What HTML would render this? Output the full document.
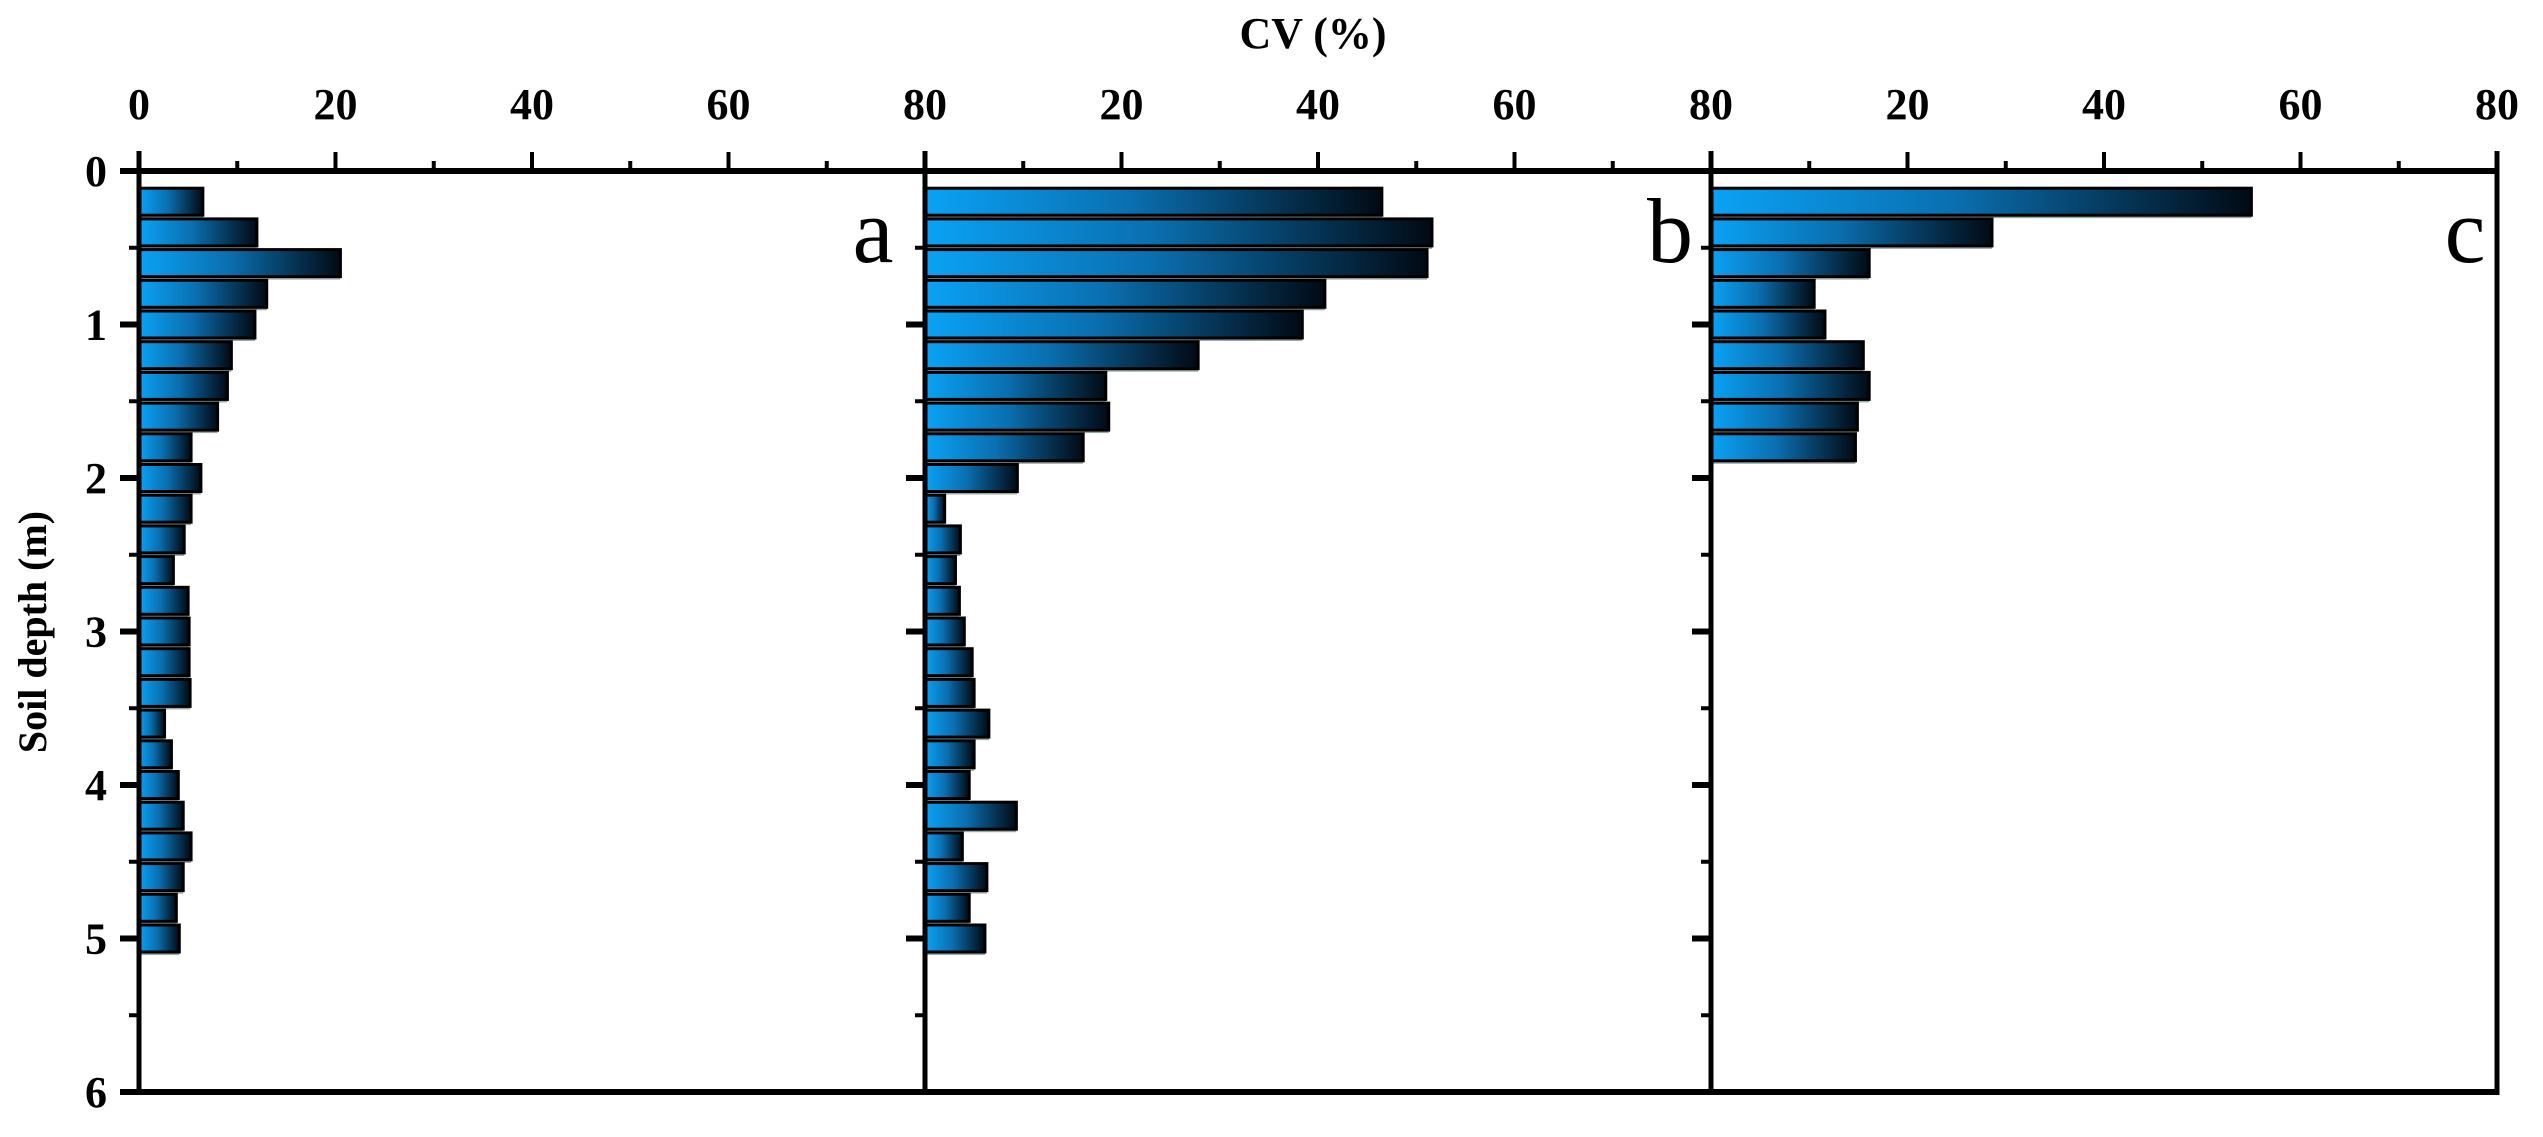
<!DOCTYPE html>
<html><head><meta charset="utf-8"><style>
html,body{margin:0;padding:0;background:#fff;}
svg{display:block;font-family:"Liberation Serif",serif;}
</style></head><body>
<svg id="chart" width="2543" height="1137" viewBox="0 0 2543 1137" xmlns="http://www.w3.org/2000/svg">
<defs>
<linearGradient id="barGrad" x1="0" y1="0" x2="1" y2="0">
<stop offset="0" stop-color="#0aa2f5"/><stop offset="0.45" stop-color="#0a6fb0"/><stop offset="1" stop-color="#010a14"/>
</linearGradient>
</defs>
<text x="1313" y="48" text-anchor="middle" font-size="44" font-weight="bold">CV (%)</text>
<text transform="translate(46,632) rotate(-90)" text-anchor="middle" font-size="40" font-weight="bold">Soil depth (m)</text>
<g id="plot"></g>
</svg>
<script>
const depths = [0.2,0.4,0.6,0.8,1.0,1.2,1.4,1.6,1.8,2.0,2.2,2.4,2.6,2.8,3.0,3.2,3.4,3.6,3.8,4.0,4.2,4.4,4.6,4.8,5.0];
const depthsC = [0.2,0.4,0.6,0.8,1.0,1.2,1.4,1.6,1.8];
const valuesA = [6.5,12,20.5,13,11.8,9.4,9,8,5.3,6.3,5.3,4.6,3.5,5,5.1,5.1,5.2,2.6,3.3,4,4.5,5.3,4.5,3.8,4.1];
const valuesB = [46.5,51.6,51.1,40.7,38.4,27.8,18.4,18.7,16.1,9.4,2,3.6,3.1,3.5,4,4.8,5,6.5,5,4.5,9.3,3.8,6.3,4.5,6.1];
const valuesC = [55,28.6,16.1,10.5,11.6,15.5,16.1,14.9,14.7];
const xTicks = [0,20,40,60,80];
const yTicks = [0,1,2,3,4,5,6];
const panelLabels = ['a','b','c'];

const NS='http://www.w3.org/2000/svg';
const plotG=document.getElementById('plot');
const panelX0=[139,925,1711], panelW=786, y0=171, yPerM=153.5, xMax=80, barH=27;
function yScale(d){return y0+d*yPerM;}
function xScale(p,v){return panelX0[p]+v/xMax*panelW;}
function mk(tag,attrs){const e=document.createElementNS(NS,tag);for(const k in attrs)e.setAttribute(k,attrs[k]);plotG.appendChild(e);return e;}

const series=[[depths,valuesA],[depths,valuesB],[depthsC,valuesC]];
series.forEach((s,p)=>{
  s[0].forEach((d,i)=>{
    const x=panelX0[p], y=yScale(d)-barH/2, w=xScale(p,s[1][i])-x;
    const sh=mk('rect',{x:x,y:y+barH,width:w,height:3,fill:'#9aa'});
    
    
    const r=mk('rect',{x:x,y:y,width:w,height:barH,fill:'url(#barGrad)',stroke:'#000','stroke-width':3});
    
    
  });
});
const axisTop=mk('line',{x1:120,y1:yScale(0),x2:2499,y2:yScale(0),stroke:'#000','stroke-width':6});


const axisBot=mk('line',{x1:120,y1:yScale(6),x2:2499,y2:yScale(6),stroke:'#000','stroke-width':6});


const axisRight=mk('line',{x1:2497,y1:yScale(0)-20,x2:2497,y2:yScale(6)+3,stroke:'#000','stroke-width':5});


panelX0.forEach((px,p)=>{
  const l=mk('line',{x1:px,y1:yScale(0)-20,x2:px,y2:yScale(6),stroke:'#000','stroke-width':5});
  
  
  for(let v=0;v<=xMax;v+=10){
    const major=v%20===0, x=xScale(p,v);
    const t=mk('line',{x1:x,y1:yScale(0),x2:x,y2:yScale(0)-(major?19:10),stroke:'#000','stroke-width':4});
    
    
  }
  xTicks.forEach(v=>{
    if(p>0&&v===0)return;
    const t=mk('text',{x:xScale(p,v),y:119,'text-anchor':'middle','font-size':44,'font-weight':'bold'});
    t.textContent=v;
    
    
  });
  for(let d=0.5;d<6;d+=0.5){
    const major=Number.isInteger(d), y=yScale(d);
    const t=mk('line',{x1:px,y1:y,x2:px-(major?19:10),y2:y,stroke:'#000','stroke-width':(major?6:4)});
    
    
  }
  const lab=mk('text',{x:[873,1670,2465][p],y:262,'text-anchor':'middle','font-size':92});
  lab.textContent=panelLabels[p];
  
  
});
const t0=mk('line',{x1:120,y1:yScale(6),x2:139,y2:yScale(6),stroke:'#000','stroke-width':6});


yTicks.forEach(d=>{
  const t=mk('text',{x:96,y:yScale(d)+15,'text-anchor':'middle','font-size':44,'font-weight':'bold'});
  t.textContent=d;
  
  
});
</script>
</body></html>
